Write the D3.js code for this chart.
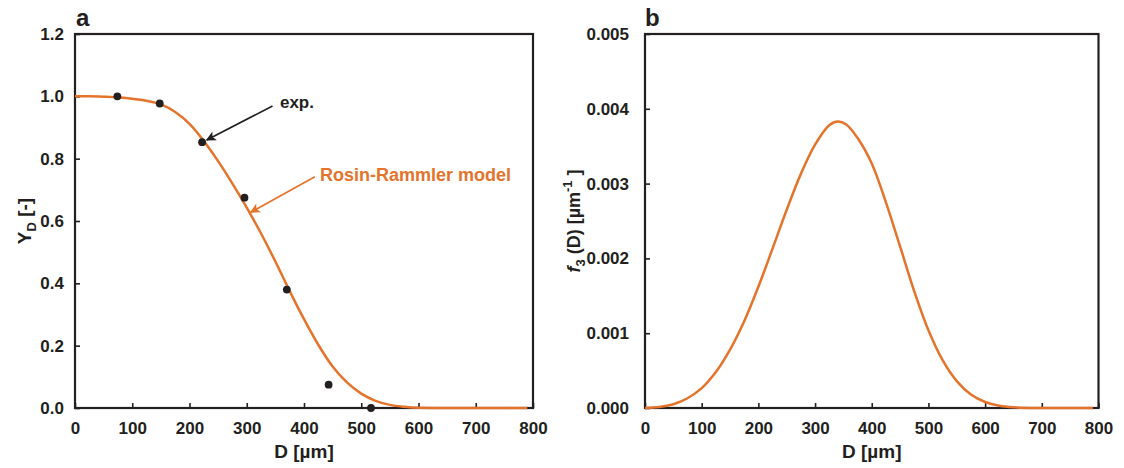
<!DOCTYPE html>
<html>
<head>
<meta charset="utf-8">
<script src="https://cdn.jsdelivr.net/npm/d3@7"></script>
<style>
  body { margin: 0; background: #fff; }
  svg text { font-family: "Liberation Sans", Arial, sans-serif; font-weight: bold; fill: #231f20; }
</style>
</head>
<body>
<svg id="chart" width="1124" height="468"></svg>
<script>
// measured sieve sizes and passing fraction
var expD = [74, 148, 222, 296, 370, 443, 517];
var expY = [1.0, 0.977, 0.853, 0.675, 0.38, 0.075, 0.0];

// Rosin-Rammler curve
var modelD = [0, 25, 50, 75, 100, 125, 150, 175, 200, 225, 250, 275, 300, 325, 350, 375, 400, 425, 450, 475, 500, 525, 550, 575, 600, 650, 700, 790];
var modelY = [1.0, 1.0, 0.999, 0.997, 0.992, 0.986, 0.974, 0.95, 0.912, 0.857, 0.792, 0.72, 0.643, 0.56, 0.47, 0.375, 0.285, 0.203, 0.133, 0.082, 0.046, 0.023, 0.01, 0.004, 0.001, 0.0, 0.0, 0.0];

// density distribution f3(D), in 1/µm
var densD = [0, 25, 50, 75, 100, 125, 150, 175, 200, 225, 250, 275, 300, 325, 340, 355, 375, 400, 425, 450, 475, 500, 525, 550, 575, 600, 625, 650, 700, 790];
var densF = [0, 0.000012, 0.00005, 0.00013, 0.000265, 0.00048, 0.00078, 0.00116, 0.00162, 0.00213, 0.00265, 0.00313, 0.00352, 0.00378, 0.00383, 0.00379, 0.00361, 0.00327, 0.00275, 0.00216, 0.00156, 0.00104, 0.00064, 0.00036, 0.00018, 0.00008, 0.00003, 0.00001, 0, 0];

var xTicks = [0, 100, 200, 300, 400, 500, 600, 700, 800];
var yTicksA = [0, 0.2, 0.4, 0.6, 0.8, 1.0, 1.2];
var yTicksB = [0, 0.001, 0.002, 0.003, 0.004, 0.005];

var orange = "#e4732b",
    ink = "#231f20";

var svg = d3.select("#chart");

var xA = d3.scaleLinear().domain([0, 800]).range([75, 533]),
    yA = d3.scaleLinear().domain([0, 1.2]).range([408, 34]),
    xB = d3.scaleLinear().domain([0, 800]).range([645, 1098.5]),
    yB = d3.scaleLinear().domain([0, 0.005]).range([408, 34]);

var defs = svg.append("defs");
function arrowHead(id, col) {
    defs.append("marker")
        .attr("id", id)
        .attr("viewBox", "0 0 10 10")
        .attr("refX", 9).attr("refY", 5)
        .attr("markerWidth", 14).attr("markerHeight", 10)
        .attr("markerUnits", "userSpaceOnUse")
        .attr("orient", "auto")
        .append("path")
        .attr("d", "M0,0 L10,5 L0,10 L2.5,5 Z")
        .attr("fill", col);
}
arrowHead("headBlack", ink);
arrowHead("headOrange", orange);

function drawFrame(x, y, yTicks, fmt, labelGap) {
    var g = svg.append("g");

    var ax = g.append("g")
        .attr("transform", "translate(0," + y.range()[0] + ")")
        .call(d3.axisBottom(x).tickValues(xTicks).tickSizeInner(-5).tickSizeOuter(0).tickPadding(10));
    ax.select(".domain").remove();
    ax.selectAll("text").attr("font-size", 17).attr("fill", ink).attr("dy", "0.95em");
    ax.selectAll("line").attr("stroke", ink).attr("stroke-width", 1.6);

    var ay = g.append("g")
        .attr("transform", "translate(" + x.range()[0] + ",0)")
        .call(d3.axisLeft(y).tickValues(yTicks).tickFormat(d3.format(fmt)).tickSizeInner(-5).tickSizeOuter(0).tickPadding(labelGap));
    ay.select(".domain").remove();
    ay.selectAll("text").attr("font-size", 17).attr("fill", ink);
    ay.selectAll("line").attr("stroke", ink).attr("stroke-width", 1.6);

    g.append("rect")
        .attr("x", x.range()[0]).attr("y", y.range()[1])
        .attr("width", x.range()[1] - x.range()[0])
        .attr("height", y.range()[0] - y.range()[1])
        .attr("fill", "none").attr("stroke", ink).attr("stroke-width", 2.2);
    return g;
}

// panel a
drawFrame(xA, yA, yTicksA, ".1f", 11);

var lineA = d3.line()
    .x(function(d) { return xA(d[0]); })
    .y(function(d) { return yA(d[1]); })
    .curve(d3.curveMonotoneX);

svg.append("path")
    .attr("d", lineA(d3.zip(modelD, modelY)))
    .attr("fill", "none").attr("stroke", orange).attr("stroke-width", 2.5);

svg.append("g").selectAll("circle")
    .data(d3.zip(expD, expY))
    .enter().append("circle")
    .attr("cx", function(d) { return xA(d[0]); })
    .attr("cy", function(d) { return yA(d[1]); })
    .attr("r", 3.9)
    .attr("fill", ink);

// annotations
svg.append("line")
    .attr("x1", xA(345)).attr("y1", yA(0.969))
    .attr("x2", xA(230)).attr("y2", yA(0.86))
    .attr("stroke", ink).attr("stroke-width", 1.6)
    .attr("marker-end", "url(#headBlack)");
svg.append("text")
    .attr("x", xA(358)).attr("y", yA(0.962))
    .attr("font-size", 17)
    .text("exp.");

svg.append("line")
    .attr("x1", xA(419)).attr("y1", yA(0.742))
    .attr("x2", xA(307)).attr("y2", yA(0.628))
    .attr("stroke", orange).attr("stroke-width", 1.6)
    .attr("marker-end", "url(#headOrange)");
svg.append("text")
    .attr("x", xA(428)).attr("y", yA(0.728))
    .attr("font-size", 18)
    .style("fill", orange)
    .text("Rosin-Rammler model");

svg.append("text").attr("x", 76).attr("y", 26).attr("font-size", 24).text("a");

svg.append("text")
    .attr("x", (xA.range()[0] + xA.range()[1]) / 2).attr("y", 458)
    .attr("text-anchor", "middle").attr("font-size", 19)
    .text("D [µm]");

var ytA = svg.append("text")
    .attr("transform", "translate(31,221) rotate(-90)")
    .attr("text-anchor", "middle").attr("font-size", 19);
ytA.append("tspan").text("Y");
ytA.append("tspan").attr("font-size", 13).attr("dy", 5).text("D");
ytA.append("tspan").attr("dy", -5).text(" [-]");

// panel b
drawFrame(xB, yB, yTicksB, ".3f", 16);

var lineB = d3.line()
    .x(function(d) { return xB(d[0]); })
    .y(function(d) { return yB(Math.max(0, d[1])); })
    .curve(d3.curveCatmullRom.alpha(0.5));

svg.append("path")
    .attr("d", lineB(d3.zip(densD, densF)))
    .attr("fill", "none").attr("stroke", orange).attr("stroke-width", 2.5);

svg.append("text").attr("x", 645).attr("y", 26).attr("font-size", 24).text("b");

svg.append("text")
    .attr("x", (xB.range()[0] + xB.range()[1]) / 2).attr("y", 458)
    .attr("text-anchor", "middle").attr("font-size", 19)
    .text("D [µm]");

var ytB = svg.append("text")
    .attr("transform", "translate(580,221) rotate(-90)")
    .attr("text-anchor", "middle").attr("font-size", 18);
ytB.append("tspan").attr("font-style", "italic").text("f");
ytB.append("tspan").attr("font-size", 13).attr("dy", 5).text("3");
ytB.append("tspan").attr("dy", -5).text(" (D) [µm");
ytB.append("tspan").attr("font-size", 13).attr("dy", -8).text("-1");
ytB.append("tspan").attr("dy", 8).text(" ]");
</script>
</body>
</html>
